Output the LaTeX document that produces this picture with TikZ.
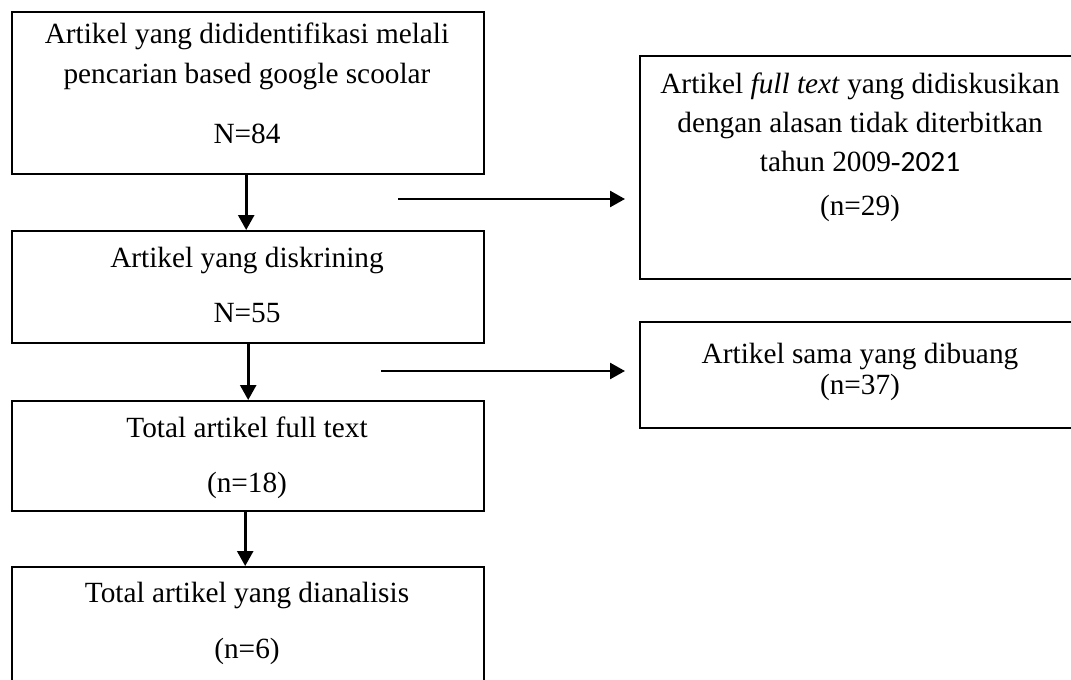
\documentclass[tikz,border=0pt]{standalone}
\usepackage{fontspec}
\setmainfont{Liberation Serif}
\newfontfamily\calfont{Carlito}
\usetikzlibrary{arrows.meta,calc}
\begin{document}
\begin{tikzpicture}[x=1pt,y=-1pt,
  box/.style={draw, line width=2.4pt, rectangle, anchor=north west, inner sep=0pt},
  txt/.style={anchor=north, inner sep=0pt, align=center, font=\fontsize{29.3}{39}\selectfont},
  conn/.style={line width=2.6pt, -{Triangle[length=15pt,width=16pt]}}]
\clip (0,0) rectangle (1071,680);
% left column boxes
\node[box, minimum width=472pt, minimum height=162pt] (b1) at (11,11) {};
\node[box, minimum width=472pt, minimum height=112pt] (b2) at (11,230) {};
\node[box, minimum width=472pt, minimum height=110pt] (b3) at (11,400) {};
\node[box, minimum width=472pt, minimum height=132pt] (b4) at (11,566) {};
% right column boxes
\node[box, minimum width=442pt, minimum height=223pt] (r1) at (639,55) {};
\node[box, minimum width=442pt, minimum height=106pt] (r2) at (639,321) {};
% texts
\node[txt] (t1) at (247,23) {Artikel yang dididentifikasi melali\\[1pt]pencarian based google scoolar\\[21pt]N=84};
\node[txt] (t2) at (247,247) {Artikel yang diskrining\\[16pt]N=55};
\node[txt] (t3) at (247,417) {Total artikel full text\\[16pt](n=18)};
\node[txt] (t4) at (247,582) {Total artikel yang dianalisis\\[17pt](n=6)};
\node[txt] (tr1) at (860,73) {Artikel \textit{full text} yang didiskusikan\\dengan alasan tidak diterbitkan\\tahun 2009-{\calfont 2021}\\[5pt](n=29)};
\node[txt] (tr2) at (860,343) {Artikel sama yang dibuang\\[-8pt](n=37)};
% vertical connectors
\draw[conn] ([xshift=-2pt]b1.south) -- ([xshift=-2pt]b2.north);
\draw[conn] (b2.south) -- (b3.north);
\draw[conn] ([xshift=-3pt]b3.south) -- ([xshift=-3pt]b4.north);
% horizontal connectors
\coordinate (a1s) at (398,199);
\coordinate (a1e) at (625,199);
\coordinate (a2s) at (381,371);
\coordinate (a2e) at (625,371);
\draw[conn] (a1s) -- (a1e);
\draw[conn] (a2s) -- (a2e);
\end{tikzpicture}
\end{document}
